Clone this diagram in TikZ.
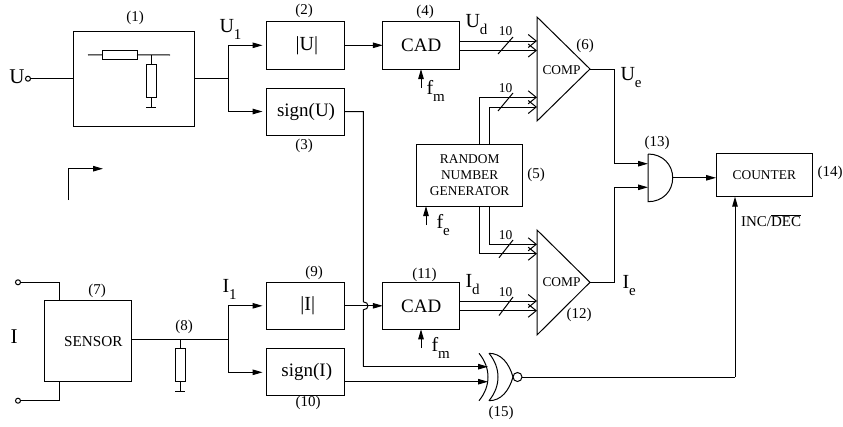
\documentclass[tikz,border=0pt]{standalone}
\usepackage{fontspec}
\setmainfont{Liberation Serif}
\usetikzlibrary{arrows.meta,calc}
\newcommand{\fs}[1]{\fontsize{#1}{#1}\selectfont}
\newcommand{\sublab}[2]{\fs{20}#1\raisebox{-7pt}{\fs{15}#2}}
\tikzset{
  every path/.style={line width=1pt},
  bx/.style={draw,rectangle,inner sep=0pt,outer sep=0pt,fill=white},
  term/.style={draw,circle,inner sep=0pt,minimum size=5pt,outer sep=0pt,fill=white},
  res/.style={draw,rectangle,inner sep=0pt,outer sep=0pt,fill=white},
  arr/.style={-{Triangle[length=10pt,width=5.5pt]}},
  bus/.style={-{Straight Barb[length=8pt,width=13pt]}},
  num/.style={inner sep=0pt,font=\fs{15}},
  big/.style={inner sep=0pt,font=\fs{19}},
  sm/.style={inner sep=0pt,font=\fs{13.4},align=center},
  ten/.style={inner sep=0pt,font=\fs{13.5}},
  gap/.style={shorten >=4pt}
}
\begin{document}
\begin{tikzpicture}[x=1pt,y=-1pt]
\useasboundingbox (0,0) rectangle (843,426);
% boxes
\node[bx,minimum width=121,minimum height=95] (b1) at (133.7,78.7) {};
\node[bx,minimum width=77.5,minimum height=47.5,font=\fs{20}] (b2) at (305.3,45.3) {\hspace{3pt}|U|};
\node[bx,minimum width=77.5,minimum height=47,font=\fs{19}] (b3) at (305.3,111.5) {\hspace{1.5pt}sign(U)};
\node[bx,minimum width=77,minimum height=47.5,font=\fs{19}] (c4) at (421.3,45.3) {CAD};
\node[bx,minimum width=106,minimum height=61.5,sm,font=\fs{13.4}] (rng) at (469.7,175.3) {RANDOM\\[2.8pt]NUMBER\\[2.8pt]GENERATOR};
\node[bx,minimum width=87,minimum height=80.7,font=\fs{15.2}] (sens) at (87.8,341.3) {\hspace{11pt}SENSOR};
\node[bx,minimum width=77.5,minimum height=47,font=\fs{20}] (b9) at (305.3,305.8) {\hspace{5pt}|I|};
\node[bx,minimum width=77.5,minimum height=47.3,font=\fs{19}] (b10) at (305.3,372.3) {\hspace{3pt}sign(I)};
\node[bx,minimum width=77,minimum height=47,font=\fs{19}] (c11) at (421.3,305.8) {CAD};
\node[bx,minimum width=96.5,minimum height=42.7,font=\fs{13.4}] (cnt) at (764.3,175.3) {COUNTER};
% triangles
\coordinate (t1top) at (537,17); \coordinate (t1bot) at (537,121); \coordinate (t1out) at (590,69);
\coordinate (t2top) at (537,230); \coordinate (t2bot) at (537,335); \coordinate (t2out) at (590,282.3);
\draw (t1top) -- (t1out) -- (t1bot) -- cycle;
\draw (t2top) -- (t2out) -- (t2bot) -- cycle;
\node[sm] (cmp1) at (561.5,70) {COMP};
\node[sm] (cmp2) at (561.5,282.5) {COMP};
% AND gate
\coordinate (atop) at (648,154); \coordinate (abot) at (648,201.7); \coordinate (aout) at (672.7,177.8);
\draw (atop) -- (abot) .. controls (663,201.7) and (672.7,191) .. (aout) .. controls (672.7,165) and (663,154) .. (atop);
\coordinate (ain1) at (648,163.7); \coordinate (ain2) at (648,187.3);
% XNOR gate
\coordinate (xo1) at (479,353.3); \coordinate (xo2) at (479,400.7);
\coordinate (xi1) at (489,353.3); \coordinate (xi2) at (489,400.7);
\coordinate (xout) at (513,377);
\draw (xo1) .. controls (491,368) and (491,386) .. (xo2);
\draw (xi1) .. controls (501,368) and (501,386) .. (xi2);
\draw (xi1) .. controls (501,353.3) and (509,363) .. (xout) .. controls (509,391) and (501,400.7) .. (xi2);
\node[term,minimum size=9pt] (bub) at (517.5,377) {};
\coordinate (xin1) at (488,366.7); \coordinate (xin2) at (488,381.7);
% filter in (1)
\node[res,minimum width=35,minimum height=9.5] (r1) at (119.5,54.8) {};
\coordinate (r1l) at (88,55); \coordinate (r1r) at (170,55); \coordinate (r1j) at (151,55);
\node[res,minimum width=10,minimum height=33.5] (r2) at (151,80.8) {};
\coordinate (g1) at (151,107);
\draw (r1l) -- (r1.west); \draw (r1.east) -- (r1r); \draw (r1j) -- (r2.north); \draw (r2.south) -- (g1);
\draw ($(g1)+(-5,0)$) -- ($(g1)+(5,0)$);
% U in
\node[term] (uin) at (28,78.7) {};
\draw (uin) -- (b1.west);
\coordinate (j1) at (228,78.7);
\draw (b1.east) -- (j1);
\draw[arr,gap] (j1) |- (b2.west);
\draw[arr,gap] (j1) |- (b3.west);
\draw[arr] (b2.east) -- (c4.west);
% legend arrow
\coordinate (la) at (68.7,200); \coordinate (lb) at (103,168.7);
\draw[arr] (la) |- (lb);
% buses top
\coordinate (t1a) at (537,41); \coordinate (t1b) at (537,50.5); \coordinate (t1c) at (537,97.3); \coordinate (t1d) at (537,107);
\draw[bus] (c4.east |- t1a) -- (t1a);
\draw[bus] (c4.east |- t1b) -- (t1b);
\coordinate (ru1) at (479.3,144.5); \coordinate (ru2) at (489,144.5);
\draw[bus] (ru1) |- (t1c);
\draw[bus] (ru2) |- (t1d);
\coordinate (t2a) at (537,244.3); \coordinate (t2b) at (537,253.7); \coordinate (t2c) at (537,301); \coordinate (t2d) at (537,310.7);
\coordinate (rd1) at (489,206); \coordinate (rd2) at (479.3,206);
\draw[bus] (rd1) |- (t2a);
\draw[bus] (rd2) |- (t2b);
\draw[bus] (c11.east |- t2c) -- (t2c);
\draw[bus] (c11.east |- t2d) -- (t2d);
% slashes
\draw (498,54) -- (513,37);
\draw (498,111) -- (513,93);
\draw (499,257.7) -- (513,240);
\draw (499,315.5) -- (513,297);
\node[ten] (n1) at (505.5,31) {10};
\node[ten] (n2) at (505.5,88) {10};
\node[ten] (n3) at (505.5,235) {10};
\node[ten] (n4) at (505.5,292) {10};
% clock arrows
\coordinate (f1) at (421,87.5); \coordinate (f2) at (421,348); \coordinate (f3) at (426,225);
\draw[arr] (f1) -- (c4.south -| f1);
\draw[arr] (f2) -- (c11.south -| f2);
\draw[arr] (f3) -- (rng.south -| f3);
% comparator outs
\coordinate (o1) at (614.7,69); \coordinate (o2) at (614.7,282.3);
\draw[arr] (t1out) -- (o1) |- (ain1);
\draw[arr] (t2out) -- (o2) |- (ain2);
\draw[arr] (aout) -- (cnt.west |- aout);
% sensor
\node[term] (it) at (18,282.3) {};
\node[term] (ib) at (18,400.7) {};
\coordinate (st) at (59,301); \coordinate (sb) at (59,381.7);
\draw (it) -| (st);
\draw (ib) -| (sb);
\coordinate (j2) at (228,339); \coordinate (sj) at (180,339);
\draw (sens.east |- j2) -- (j2);
\node[res,minimum width=10,minimum height=33.4] (r3) at (180,365) {};
\coordinate (g2) at (180,391.5);
\draw (sj) -- (r3.north); \draw (r3.south) -- (g2);
\draw ($(g2)+(-5,0)$) -- ($(g2)+(5,0)$);
\draw[arr,gap] (j2) |- (b9.west);
\draw[arr,gap] (j2) |- (b10.west);
\draw[arr] (b9.east) -- (c11.west);
% sign(U) to XNOR with hop
\coordinate (h0) at (363.3,111.5); \coordinate (h1) at (363.3,301.8); \coordinate (h2) at (363.3,309.8); \coordinate (h3) at (363.3,366.7);
\draw (b3.east) -- (h0) -- (h1) .. controls (369.5,301.8) and (369.5,309.8) .. (h2) -- (h3);
\draw[arr] (h3) -- (xin1);
\draw[arr] (b10.east |- xin2) -- (xin2);
\coordinate (ic) at (735,377);
\draw (bub) -- (ic);
\draw[arr] (ic) -- (cnt.south -| ic);
% labels
\node[big,font=\fs{21}] (lu) at (17,76.5) {U};
\node[num] (l1) at (135,18) {(1)};
\node[num] (l2) at (304,11) {(2)};
\node[num] (l3) at (304,146) {(3)};
\node[num] (l4) at (425,12) {(4)};
\node[num] (l5) at (536,175) {(5)};
\node[num] (l6) at (585,46) {(6)};
\node[num] (l7) at (97,290.5) {(7)};
\node[num] (l8) at (184,327) {(8)};
\node[num] (l9) at (314,273) {(9)};
\node[num] (l10) at (308,403) {(10)};
\node[num] (l11) at (424.5,275) {(11)};
\node[num] (l12) at (579,315) {(12)};
\node[num] (l13) at (657,143) {(13)};
\node[num] (l14) at (830,173) {(14)};
\node[num] (l15) at (501,413) {(15)};
\node[inner sep=0pt,anchor=base west] (lu1) at (219,32) {\sublab{U}{1}};
\node[inner sep=0pt,anchor=base west] (lud) at (465,27) {\sublab{U}{d}};
\node[inner sep=0pt,anchor=base west] (lue) at (620,80) {\sublab{U}{e}};
\node[inner sep=0pt,anchor=base west] (li1) at (222,292) {\sublab{I}{1}};
\node[inner sep=0pt,anchor=base west] (lid) at (465,287) {\sublab{I}{d}};
\node[inner sep=0pt,anchor=base west] (lie) at (622,288) {\sublab{I}{e}};
\node[big,font=\fs{21}] (li) at (14,337) {I};
\node[inner sep=0pt,anchor=base west] (fm1) at (426,94) {\sublab{f}{m}};
\node[inner sep=0pt,anchor=base west] (fm2) at (431,351) {\sublab{f}{m}};
\node[inner sep=0pt,anchor=base west] (fe) at (436,228) {\sublab{f}{e}};
\node[inner sep=0pt,font=\fs{15}] (inc) at (771,221) {INC/$\overline{\mbox{DEC}}$};
\end{tikzpicture}
\end{document}
